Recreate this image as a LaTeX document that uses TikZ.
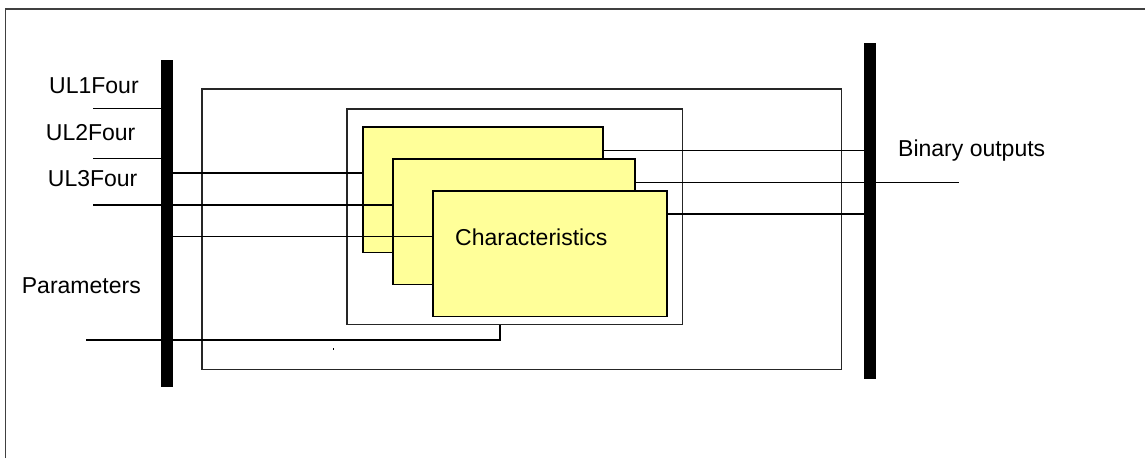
\documentclass[tikz,border=0pt]{standalone}
\usepackage{fontspec}
\setmainfont{Liberation Sans}
\begin{document}
\begin{tikzpicture}[x=1pt,y=-1pt,
  thinline/.style={line width=1.5pt,black},
  frameline/.style={line width=1.5pt,black!75},
  busbar/.style={fill=black,draw=none,inner sep=0pt,outer sep=0pt},
  plainbox/.style={draw=black!85,line width=1.5pt,fill=none,inner sep=0pt,outer sep=0pt},
  charbox/.style={draw=black,line width=1.8pt,fill=yellowfill,inner sep=0pt,outer sep=0pt},
  lbl/.style={anchor=base west,inner sep=0pt,font=\fontsize{23}{27}\selectfont}
]
\definecolor{yellowfill}{HTML}{FFFF99}
\useasboundingbox (0,0) rectangle (1145,458);
% frame
\coordinate (ftl) at (5.5,9);
\coordinate (ftr) at (1145,9);
\coordinate (fbl) at (5.5,458);
\draw[frameline] (fbl) -- (ftl) -- (ftr);
% boxes
\node[plainbox,minimum width=639.5pt,minimum height=280.5pt] (outer) at (521.75,229.25) {};
\node[plainbox,minimum width=335.5pt,minimum height=215.5pt] (inner) at (514.75,216.75) {};
% buses
\node[busbar,minimum width=11.5pt,minimum height=326.7pt] (lbus) at (166.75,223.35) {};
\node[busbar,minimum width=12pt,minimum height=336pt] (rbus) at (869.75,211) {};
% characteristic boxes
\node[charbox,minimum width=240pt,minimum height=125.5pt] (c1) at (483,189.75) {};
\node[charbox,minimum width=242pt,minimum height=125.5pt] (c2) at (514,221.75) {};
\node[charbox,minimum width=234pt,minimum height=125.5pt] (c3) at (550,253.75) {};
% input free ends
\coordinate (in1) at (93,108.3);
\coordinate (in2) at (93,158.3);
\coordinate (in3) at (93,205);
\coordinate (pin) at (86,340);
\coordinate (pbend) at (500,340);
\coordinate (out2) at (959,182.5);
% inputs
\draw[thinline] (in1) -- (in1 -| lbus.west);
\draw[thinline] (in2) -- (in2 -| lbus.west);
\draw[thinline] (lbus.east |- 0,173) -- (c1.west |- 0,173);
\draw[thinline] (in3) -- (in3 -| c2.west);
\draw[thinline] (lbus.east |- 0,236.7) -- (c3.west |- 0,236.7);
\draw[thinline] (pin) -- (pbend) -- (pbend |- inner.south);
% outputs
\draw[thinline] (c1.east |- 0,150.7) -- (rbus.west |- 0,150.7);
\draw[thinline] (c2.east |- out2) -- (out2);
\draw[thinline] (c3.east |- 0,214) -- (rbus.west |- 0,214);
% stray dot
\fill[black] (332.6,348) rectangle (334.2,349.6);
% labels
\node[lbl] (t1) at (49,93.3) {UL1Four};
\node[lbl] (t2) at (45.7,140.7) {UL2Four};
\node[lbl] (t3) at (47.7,186.7) {UL3Four};
\node[lbl] (tp) at (21.7,293.3) {Parameters};
\node[lbl] (tc) at (455,245.7) {Characteristics};
\node[lbl] (tb) at (898,156.7) {Binary outputs};
\end{tikzpicture}
\end{document}
